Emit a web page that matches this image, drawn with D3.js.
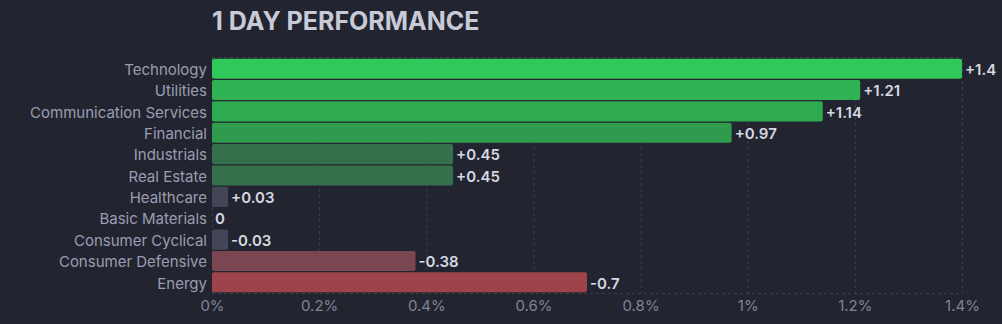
<!DOCTYPE html>
<html><head><meta charset="utf-8">
<script src="https://cdn.jsdelivr.net/npm/d3@7"></script>
<style>
html,body{margin:0;padding:0;background:#22252f;}
svg{display:block;font-family:Inter, "Noto Sans", sans-serif;}
</style></head>
<body><svg id="c" width="1002" height="324"></svg>
<script>
const categories = ["Technology","Utilities","Communication Services","Financial","Industrials","Real Estate","Healthcare","Basic Materials","Consumer Cyclical","Consumer Defensive","Energy"];
const values = [1.4,1.21,1.14,0.97,0.45,0.45,0.03,0,-0.03,-0.38,-0.7];
const barColors = ["#30c85a","#2fb354","#2eab51","#2e9b4d","#356f4c","#356f4c","#434656","#434656","#434656","#7a4651","#9f434b"];
const tickValues = [0,0.2,0.4,0.6,0.8,1,1.2,1.4];
const tickLabels = ["0%","0.2%","0.4%","0.6%","0.8%","1%","1.2%","1.4%"];

const svg = d3.select("#c");
const m = {left:212, right:962, top:58, bottom:293};
const x = d3.scaleLinear().domain([0,1.4]).range([m.left,m.right]);
const y = d3.scaleBand().domain(categories).range([m.top,m.bottom]).paddingInner(0.06).paddingOuter(0.03);

svg.append("text").attr("x",212).attr("y",30).attr("fill","#c8cad8")
  .attr("font-size",25).attr("font-weight",700).text("1 DAY PERFORMANCE");

const grid = svg.append("g");
grid.selectAll("line.v").data(tickValues).join("line")
  .attr("x1",d=>x(d)+0.5).attr("x2",d=>x(d)+0.5).attr("y1",m.top-1).attr("y2",m.bottom)
  .attr("stroke","#3a3e4c").attr("stroke-dasharray","3,3");
[m.top-1,m.bottom].forEach(yy=>grid.append("line").attr("x1",m.left).attr("x2",m.right)
  .attr("y1",yy+0.5).attr("y2",yy+0.5).attr("stroke","#3a3e4c").attr("stroke-dasharray","3,3"));

svg.append("g").selectAll("rect").data(categories).join("rect")
  .attr("x",x(0)).attr("y",d=>y(d)).attr("height",y.bandwidth())
  .attr("width",(d,i)=>x(Math.abs(values[i]))-x(0)).attr("rx",2)
  .attr("fill",(d,i)=>barColors[i]);

svg.append("g").selectAll("text").data(categories).join("text")
  .attr("x",207).attr("y",d=>y(d)+y.bandwidth()/2+1).attr("dy","0.35em")
  .attr("text-anchor","end").attr("fill","#9a9db2").attr("font-size",15).text(d=>d);

svg.append("g").selectAll("text").data(categories).join("text")
  .attr("x",(d,i)=>x(Math.abs(values[i]))+3).attr("y",d=>y(d)+y.bandwidth()/2+1).attr("dy","0.35em")
  .attr("fill","#d6d8e2").attr("font-size",15).attr("font-weight",600)
  .text((d,i)=>values[i]>0?"+"+values[i]:String(values[i]));

const ax = d3.axisBottom(x).tickValues(tickValues).tickFormat((d,i)=>tickLabels[i]).tickSize(0).tickPadding(0);
const g = svg.append("g").attr("transform",`translate(0,${m.bottom})`).call(ax);
g.select(".domain").remove();
g.selectAll("text").attr("fill","#7f8398").attr("font-size",15).attr("dy","0").attr("y",18)
  .attr("font-family","Inter, 'Noto Sans', sans-serif");
</script></body></html>
